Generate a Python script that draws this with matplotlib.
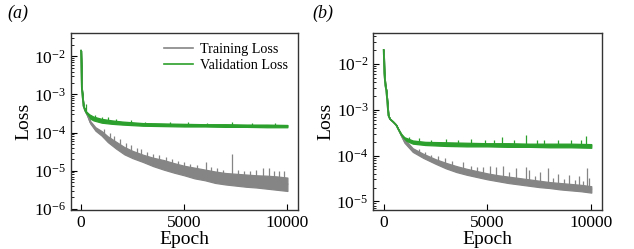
import numpy as np
import matplotlib
matplotlib.use("Agg")
import matplotlib.pyplot as plt

plt.rcParams['font.family'] = ['Liberation Serif', 'DejaVu Serif']
plt.rcParams['mathtext.fontset'] = 'custom'
plt.rcParams['mathtext.rm'] = 'Liberation Serif'
plt.rcParams['mathtext.it'] = 'Liberation Serif:italic'

# --- panel (a): values as log10(loss) ---
a_train_epoch = [0, 40, 120, 200, 300, 450, 700, 1000, 1300, 1700, 2100, 2500, 3000, 3500,
                 4000, 4500, 5000, 5500, 6000, 6500, 7000, 7500, 8000, 8500, 9000, 9500, 10000]
a_train_lo = [-1.85, -2.85, -3.30, -3.44, -3.55, -3.76, -3.95, -4.08, -4.25, -4.42, -4.57, -4.67, -4.77, -4.88,
              -4.97, -5.05, -5.12, -5.20, -5.25, -5.32, -5.36, -5.39, -5.42, -5.44, -5.47, -5.50, -5.53]
a_train_hi = [-1.85, -2.85, -3.30, -3.42, -3.50, -3.70, -3.86, -3.96, -4.10, -4.24, -4.38, -4.48, -4.58, -4.66,
              -4.72, -4.80, -4.87, -4.92, -4.97, -5.02, -5.06, -5.08, -5.10, -5.12, -5.13, -5.15, -5.18]
# spike tips (epoch, log10 loss)
a_train_spike_x = [1100, 1400, 1600, 1900, 2200, 2400, 2700, 2900, 3200, 3500, 3800, 4100, 4400, 4700,
                   5000, 5300, 5600, 6040, 6300, 6600, 6900, 7300, 7600, 7900, 8200, 8500, 8800, 9120,
                   9350, 9600, 9850]
a_train_spike_y = [-3.90, -4.02, -4.08, -4.18, -4.28, -4.32, -4.40, -4.42, -4.52, -4.57, -4.60, -4.64, -4.70, -4.74,
                   -4.77, -4.82, -4.84, -4.78, -4.90, -4.92, -4.97, -4.55, -4.97, -5.00, -5.02, -4.98, -4.92, -4.92,
                   -5.02, -5.02, -5.00]

a_val_epoch = [0, 40, 120, 200, 260, 400, 600, 1000, 1500, 2000, 3000, 4000, 5000, 6000, 7000, 8000, 9000, 10000]
a_val_lo = [-1.85, -2.85, -3.30, -3.42, -3.50, -3.62, -3.68, -3.74, -3.77, -3.79, -3.82, -3.83, -3.84, -3.84, -3.85, -3.85, -3.86, -3.86]
a_val_hi = [-1.85, -2.85, -3.30, -3.42, -3.45, -3.52, -3.58, -3.64, -3.68, -3.71, -3.75, -3.76, -3.77, -3.78, -3.78, -3.79, -3.79, -3.80]
a_val_spike_x = [260, 700, 1000, 1300, 1700, 2400, 3100, 4300, 5200, 6100, 7300, 8300, 9400]
a_val_spike_y = [-3.24, -3.54, -3.58, -3.58, -3.64, -3.66, -3.71, -3.72, -3.73, -3.74, -3.71, -3.75, -3.75]

# --- panel (b) ---
b_train_epoch = [0, 30, 80, 120, 160, 225, 300, 450, 600, 700, 850, 1000, 1400, 1900, 2500, 3000, 3500,
                 4000, 4500, 5000, 5500, 6000, 6500, 7000, 7500, 8000, 8500, 9000, 9500, 10000]
b_train_lo = [-1.69, -2.20, -2.47, -2.56, -2.75, -3.12, -3.20, -3.26, -3.33, -3.42, -3.58, -3.72, -3.92, -4.05, -4.18, -4.28, -4.36,
              -4.42, -4.47, -4.52, -4.56, -4.60, -4.63, -4.66, -4.69, -4.71, -4.74, -4.76, -4.78, -4.81]
b_train_hi = [-1.69, -2.20, -2.47, -2.56, -2.75, -3.12, -3.20, -3.26, -3.33, -3.42, -3.53, -3.64, -3.84, -3.96, -4.08, -4.16, -4.23,
              -4.29, -4.34, -4.39, -4.43, -4.46, -4.49, -4.52, -4.55, -4.58, -4.60, -4.62, -4.64, -4.67]
b_train_spike_x = [1700, 2000, 2300, 2600, 2930, 3300, 3800, 4200, 4500, 4770, 5100, 5420, 5740, 6050, 6380,
                   6870, 7020, 7300, 7510, 7910, 8150, 8390, 8700, 8950, 9200, 9400, 9600, 9790, 9900]
b_train_spike_y = [-3.86, -3.92, -3.98, -4.02, -4.06, -4.12, -4.15, -4.22, -4.25, -4.25, -4.22, -4.24, -4.23, -4.36, -4.28,
                   -4.26, -4.31, -4.44, -4.37, -4.28, -4.48, -4.40, -4.52, -4.42, -4.54, -4.45, -4.55, -4.28, -4.50]

b_val_epoch = [0, 30, 80, 120, 160, 225, 300, 450, 600, 700, 850, 1000, 1400, 2000, 3000, 4000, 5000,
               6000, 7000, 8000, 9000, 10000]
b_val_lo = [-1.69, -2.20, -2.47, -2.56, -2.75, -3.12, -3.20, -3.26, -3.33, -3.42, -3.56, -3.66, -3.74, -3.77, -3.79, -3.80, -3.80,
            -3.81, -3.81, -3.82, -3.82, -3.83]
b_val_hi = [-1.69, -2.20, -2.47, -2.56, -2.75, -3.12, -3.20, -3.26, -3.33, -3.42, -3.53, -3.60, -3.67, -3.70, -3.71, -3.72, -3.73,
            -3.73, -3.74, -3.74, -3.74, -3.75]
b_val_spike_x = [1200, 1700, 2300, 3000, 3600, 4200, 4900, 5300, 5710, 6300, 6870, 7400, 7700, 8400, 9000, 9500, 9760]
b_val_spike_y = [-3.60, -3.62, -3.65, -3.64, -3.66, -3.64, -3.66, -3.65, -3.60, -3.66, -3.55, -3.67, -3.65, -3.66, -3.67, -3.66, -3.58]

GRAY = '#858585'
GREEN = '#2ca02c'


def draw_series(ax, ep, lo, hi, sx, sy, color, label):
    ax.fill_between(ep, 10.0 ** np.array(lo), 10.0 ** np.array(hi), color=color, lw=0.9, edgecolor=color)
    ax.plot(ep, 10.0 ** ((np.array(lo) + np.array(hi)) / 2), color=color, lw=1.2, label=label)
    # spikes rise from inside the band up to the read tip
    base = np.interp(sx, ep, (np.array(lo) + np.array(hi)) / 2)
    ax.vlines(sx, 10.0 ** base, 10.0 ** np.array(sy), color=color, lw=0.9)


fig = plt.figure(figsize=(6.34, 2.49), dpi=100)
ax1 = fig.add_axes([0.1115, 0.1566, 0.3581, 0.7121])
ax2 = fig.add_axes([0.5888, 0.1566, 0.3602, 0.7121])

draw_series(ax1, a_train_epoch, a_train_lo, a_train_hi, a_train_spike_x, a_train_spike_y, GRAY, 'Training Loss')
draw_series(ax1, a_val_epoch, a_val_lo, a_val_hi, a_val_spike_x, a_val_spike_y, GREEN, 'Validation Loss')
draw_series(ax2, b_train_epoch, b_train_lo, b_train_hi, b_train_spike_x, b_train_spike_y, GRAY, 'Training Loss')
draw_series(ax2, b_val_epoch, b_val_lo, b_val_hi, b_val_spike_x, b_val_spike_y, GREEN, 'Validation Loss')

for ax in (ax1, ax2):
    ax.set_yscale('log')
    ax.set_xlim(-500, 10500)
    ax.set_xticks([0, 5000, 10000])
    ax.tick_params(which='both', direction='in', labelsize=12.5)
    ax.tick_params(which='major', length=4, width=0.8)
    ax.tick_params(which='minor', length=2, width=0.6)
    ax.set_xlabel('Epoch', fontsize=14, labelpad=0)
    ax.set_ylabel('Loss', fontsize=14, labelpad=1)
    for s in ax.spines.values():
        s.set_linewidth(1.0)
        s.set_color('#333333')

ax1.set_ylim(10 ** -6.03, 10 ** -1.38)
ax2.set_ylim(10 ** -5.19, 10 ** -1.315)

ax1.legend(loc='upper right', frameon=False, fontsize=10.2, handlelength=2.0,
           borderaxespad=0.3, labelspacing=0.25, handletextpad=0.5)

fig.text(0.012, 0.945, '(a)', fontsize=13, style='italic', va='center')
fig.text(0.492, 0.945, '(b)', fontsize=13, style='italic', va='center')

fig.savefig('out.png', dpi=100)
